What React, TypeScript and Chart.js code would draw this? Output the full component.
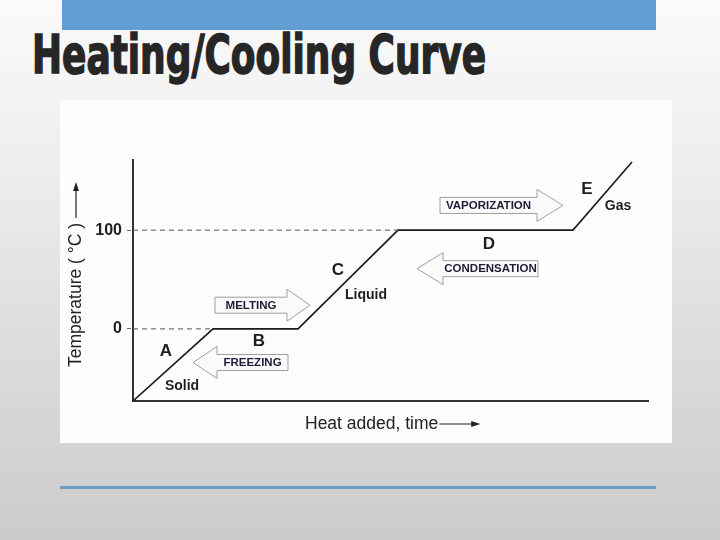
import React, { useEffect, useRef } from "react";
import { Chart, registerables } from "chart.js";

Chart.register(...registerables);

// Heating curve (x: heat added, arbitrary units; y: temperature °C)
const heatX = [0, 80, 165, 265, 440, 499];
const tempY = [-73, 0, 0, 100, 100, 169];
const yTickValues = [0, 100];

const phaseLetters = ["A", "B", "C", "D", "E"];
const letterX = [33, 126, 205, 356, 454];
const letterY = [-23, -13, 59, 86, 141];

const stateNames = ["Solid", "Liquid", "Gas"];
const stateX = [49, 233, 485];
const stateY = [-58, 34, 124];

const processNames = ["MELTING", "FREEZING", "VAPORIZATION", "CONDENSATION"];
const processTail = [82, 155, 307, 405];
const processBase = [154, 84, 404, 310];
const processTip = [177, 60, 430, 284];
const processY = [24, -34, 125, 61];

const FONT = "'Liberation Sans', Arial, Helvetica, sans-serif";

const annotationPlugin = {
  id: "heatingAnnotations",
  afterDatasetsDraw(chart: any) {
    const ctx = chart.ctx as CanvasRenderingContext2D;
    const xs = chart.scales.x;
    const ys = chart.scales.y;
    const area = chart.chartArea;
    ctx.save();

    // block arrows
    for (let i = 0; i < processNames.length; i++) {
      const tx = xs.getPixelForValue(processTail[i]);
      const bx = xs.getPixelForValue(processBase[i]);
      const px = xs.getPixelForValue(processTip[i]);
      const cy = ys.getPixelForValue(processY[i]);
      const bh = 8;
      const hh = 16;
      ctx.beginPath();
      ctx.moveTo(tx, cy - bh);
      ctx.lineTo(bx, cy - bh);
      ctx.lineTo(bx, cy - hh);
      ctx.lineTo(px, cy);
      ctx.lineTo(bx, cy + hh);
      ctx.lineTo(bx, cy + bh);
      ctx.lineTo(tx, cy + bh);
      ctx.closePath();
      ctx.fillStyle = "#fafafa";
      ctx.fill();
      ctx.strokeStyle = "#a0a0a0";
      ctx.lineWidth = 1;
      ctx.stroke();
      ctx.fillStyle = "#1c1c38";
      ctx.font = `bold 11.5px ${FONT}`;
      ctx.textAlign = "center";
      ctx.textBaseline = "middle";
      ctx.fillText(processNames[i], (tx + bx) / 2, cy + 0.5);
    }

    // letters
    ctx.fillStyle = "#1e1e1e";
    ctx.font = `bold 17px ${FONT}`;
    ctx.textAlign = "center";
    ctx.textBaseline = "middle";
    for (let i = 0; i < phaseLetters.length; i++) {
      ctx.fillText(phaseLetters[i], xs.getPixelForValue(letterX[i]), ys.getPixelForValue(letterY[i]));
    }
    // states
    ctx.font = `bold 14px ${FONT}`;
    for (let i = 0; i < stateNames.length; i++) {
      ctx.fillText(stateNames[i], xs.getPixelForValue(stateX[i]), ys.getPixelForValue(stateY[i]));
    }

    // y axis title with arrow
    ctx.font = `17.5px ${FONT}`;
    ctx.fillStyle = "#222";
    ctx.strokeStyle = "#222";
    ctx.save();
    ctx.translate(area.left - 57, area.bottom - 34);
    ctx.rotate(-Math.PI / 2);
    ctx.textAlign = "left";
    ctx.textBaseline = "middle";
    const yTitle = "Temperature ( °C )";
    ctx.fillText(yTitle, 0, 0);
    const yw = ctx.measureText(yTitle).width;
    const yEnd = area.bottom - 34 - (area.top + 22);
    ctx.lineWidth = 1.2;
    ctx.beginPath();
    ctx.moveTo(yw + 5, 0);
    ctx.lineTo(yEnd - 6, 0);
    ctx.stroke();
    ctx.beginPath();
    ctx.moveTo(yEnd, 0);
    ctx.lineTo(yEnd - 9, -3);
    ctx.lineTo(yEnd - 9, 3);
    ctx.closePath();
    ctx.fill();
    ctx.restore();

    // x axis title with arrow
    const xt = "Heat added, time";
    const x0 = area.left + 172;
    const yc = area.bottom + 23;
    ctx.textAlign = "left";
    ctx.textBaseline = "middle";
    ctx.fillText(xt, x0, yc);
    const xw = ctx.measureText(xt).width;
    const xEnd = x0 + xw + 42;
    ctx.lineWidth = 1.2;
    ctx.beginPath();
    ctx.moveTo(x0 + xw + 1, yc);
    ctx.lineTo(xEnd - 6, yc);
    ctx.stroke();
    ctx.beginPath();
    ctx.moveTo(xEnd, yc);
    ctx.lineTo(xEnd - 9, yc - 3);
    ctx.lineTo(xEnd - 9, yc + 3);
    ctx.closePath();
    ctx.fill();

    ctx.restore();
  },
};

export default function App() {
  const canvasRef = useRef<HTMLCanvasElement | null>(null);
  const titleRef = useRef<HTMLDivElement | null>(null);

  useEffect(() => {
    const t = titleRef.current;
    if (t) {
      t.style.transform = "none";
      const w = t.getBoundingClientRect().width;
      t.style.transform = `scaleX(${454 / w})`;
    }
    if (!canvasRef.current) return;
    const curve = heatX.map((x, i) => ({ x, y: tempY[i] }));
    const dashSets = yTickValues.map((v) => {
      const idx = tempY.indexOf(v);
      return {
        data: [
          { x: 0, y: v },
          { x: heatX[idx], y: v },
        ],
        borderColor: "#555",
        borderWidth: 1,
        borderDash: [5, 4],
        pointRadius: 0,
        tension: 0,
      };
    });
    const chart = new Chart(canvasRef.current, {
      type: "line",
      data: {
        datasets: [
          ...dashSets,
          {
            data: curve,
            borderColor: "#1a1a1a",
            borderWidth: 1.6,
            pointRadius: 0,
            tension: 0,
          },
        ],
      },
      options: {
        animation: false,
        responsive: true,
        maintainAspectRatio: false,
        layout: { padding: { left: 0, top: 60, right: 24, bottom: 0 } },
        plugins: { legend: { display: false }, tooltip: { enabled: false } },
        scales: {
          x: {
            type: "linear",
            min: 0,
            max: 515,
            ticks: { display: false },
            grid: { display: false },
            border: { display: true, color: "#333", width: 2 },
            afterFit: (s: any) => {
              s.height = 42;
            },
          },
          y: {
            type: "linear",
            min: -73,
            max: 171,
            afterBuildTicks: (s: any) => {
              s.ticks = yTickValues.map((v) => ({ value: v }));
            },
            ticks: {
              color: "#1e1e1e",
              font: { family: FONT, size: 16, weight: "bold" },
              padding: 5,
            },
            grid: {
              drawOnChartArea: false,
              drawTicks: true,
              tickLength: 6,
              color: "#666",
              tickBorderDash: [4, 3],
            },
            border: { display: true, color: "#333", width: 2 },
            afterFit: (s: any) => {
              s.width = 73;
            },
          },
        },
      },
      plugins: [annotationPlugin],
    });
    return () => chart.destroy();
  }, []);

  return (
    <div
      style={{
        position: "fixed",
        left: 0,
        top: 0,
        width: 720,
        height: 540,
        overflow: "hidden",
        background: "linear-gradient(180deg, #fafafa 0%, #f0f0f0 25%, #dcdcdc 65%, #cbcbcb 100%)",
      }}
    >
      <div style={{ position: "absolute", left: 62, top: 0, width: 594, height: 30, background: "#629ed3" }} />
      <div
        ref={titleRef}
        style={{
          position: "absolute",
          left: 32,
          top: 28,
          whiteSpace: "nowrap",
          display: "inline-block",
          fontFamily: "'DejaVu Sans Condensed', 'DejaVu Sans', sans-serif",
          fontWeight: 900,
          fontSize: 54,
          lineHeight: "54px",
          color: "#262626",
          WebkitTextStroke: "1.5px #262626",
          transformOrigin: "left top",
        }}
      >
        Heating/Cooling Curve
      </div>
      <div style={{ position: "absolute", left: 60, top: 100, width: 612, height: 343, background: "#fdfdfd" }}>
        <canvas ref={canvasRef} />
      </div>
      <div style={{ position: "absolute", left: 60, top: 486, width: 596, height: 3, background: "#6d9bc3" }} />
    </div>
  );
}
